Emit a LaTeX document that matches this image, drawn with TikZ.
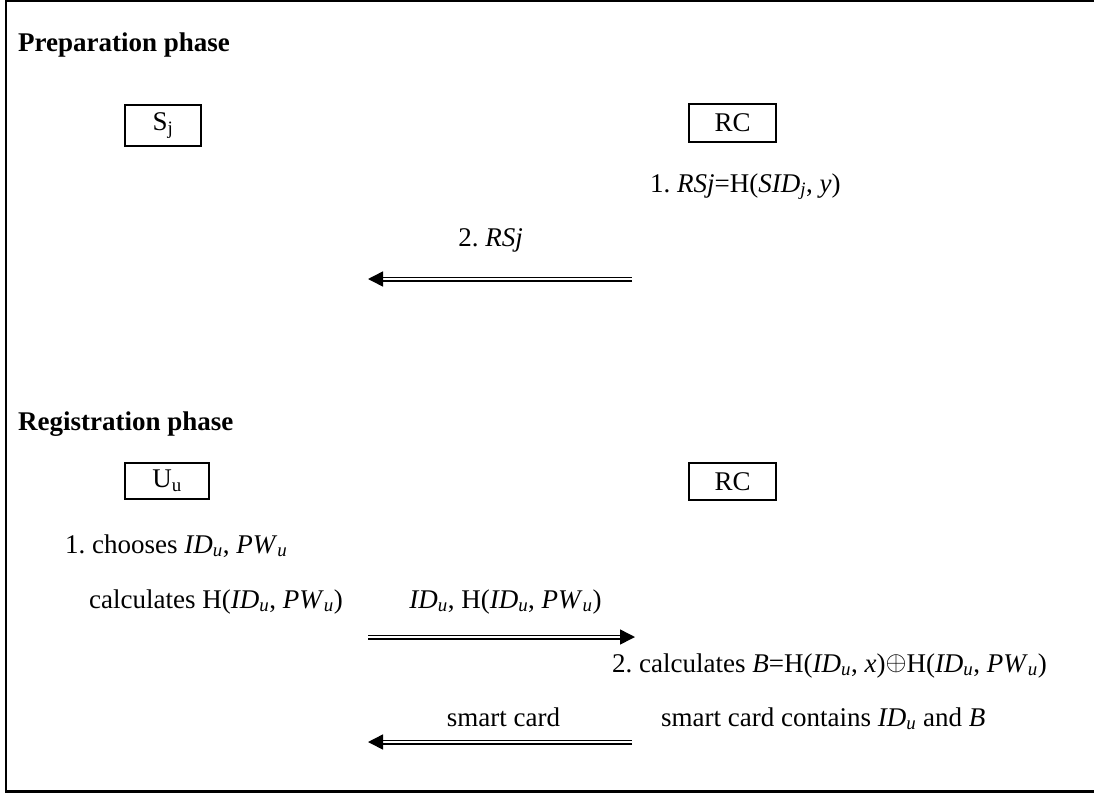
\documentclass[tikz,border=0pt]{standalone}
\usepackage{fontspec}
\usepackage{graphicx}
\setmainfont{Liberation Serif}
\usetikzlibrary{arrows.meta}
\newcommand\sbx[1]{\textsubscript{#1}}
\newcommand\xorsym{\raisebox{2pt}{\resizebox{21pt}{!}{$\oplus$}}}
\frenchspacing
\begin{document}
\begin{tikzpicture}[x=1pt,y=-1pt,
  every node/.style={font=\fontsize{27}{32}\selectfont\frenchspacing, inner sep=0pt},
  lbl/.style={anchor=base west},
  clbl/.style={anchor=base},
  head/.style={anchor=base west, font=\fontsize{27}{32}\selectfont\bfseries},
  party/.style={draw, line width=2pt, inner sep=0pt},
  msg/.style={double, line width=1.5pt, double distance=2pt, -{Triangle[length=15pt,width=15pt]}},
  frame/.style={line width=2.5pt}]
\useasboundingbox (0,0) rectangle (1094,793);
% frame (right side not shown)
\coordinate (ftr) at (1100,1.2);
\coordinate (ftl) at (6,1.2);
\coordinate (fbl) at (6,791.5);
\coordinate (fbr) at (1100,791.5);
\draw[frame] (ftr) -- (ftl) -- (fbl) -- (fbr);

% Preparation phase
\node[head] (hprep) at (18,51) {Preparation phase};
\node[party, minimum width=76pt, minimum height=41pt] (sj) at (163,125.5) {S\sbx{j}};
\node[party, minimum width=87pt, minimum height=38pt] (rc1) at (732.5,123) {RC};
\node[lbl] (t1) at (650,192) {1. \textit{RSj}=H(\textit{SID}\sbx{\textit{j}}, \textit{y})};
\node[clbl] (t2) at (490.5,246) {2. \textit{RSj}};
\coordinate (a1s) at (632,279);
\coordinate (a1e) at (368,279);
\draw[msg] (a1s) -- (a1e);

% Registration phase
\node[head] (hreg) at (18,430) {Registration phase};
\node[party, minimum width=84pt, minimum height=36pt] (uu) at (167,481) {U\sbx{u}};
\node[party, minimum width=87pt, minimum height=37pt] (rc2) at (732.5,481.5) {RC};
\node[lbl] (r1) at (65,553) {1. chooses \textit{ID}\sbx{\textit{u}}, \textit{PW}\sbx{\textit{u}}};
\node[lbl] (r2) at (89,608) {calculates H(\textit{ID}\sbx{\textit{u}}, \textit{PW}\sbx{\textit{u}})};
\node[clbl] (r3) at (505.5,608) {\textit{ID}\sbx{\textit{u}}, H(\textit{ID}\sbx{\textit{u}}, \textit{PW}\sbx{\textit{u}})};
\coordinate (a2s) at (368,637);
\coordinate (a2e) at (635,637);
\draw[msg] (a2s) -- (a2e);
\node[lbl] (r4) at (612,672) {2. calculates \textit{B}=H(\textit{ID}\sbx{\textit{u}}, \textit{x})\xorsym H(\textit{ID}\sbx{\textit{u}}, \textit{PW}\sbx{\textit{u}})};
\node[clbl] (r5) at (503.5,726) {smart card};
\node[lbl] (r6) at (661,726) {smart card contains \textit{ID}\sbx{\textit{u}} and \textit{B}};
\coordinate (a3s) at (632,742);
\coordinate (a3e) at (368,742);
\draw[msg] (a3s) -- (a3e);
\end{tikzpicture}
\end{document}
